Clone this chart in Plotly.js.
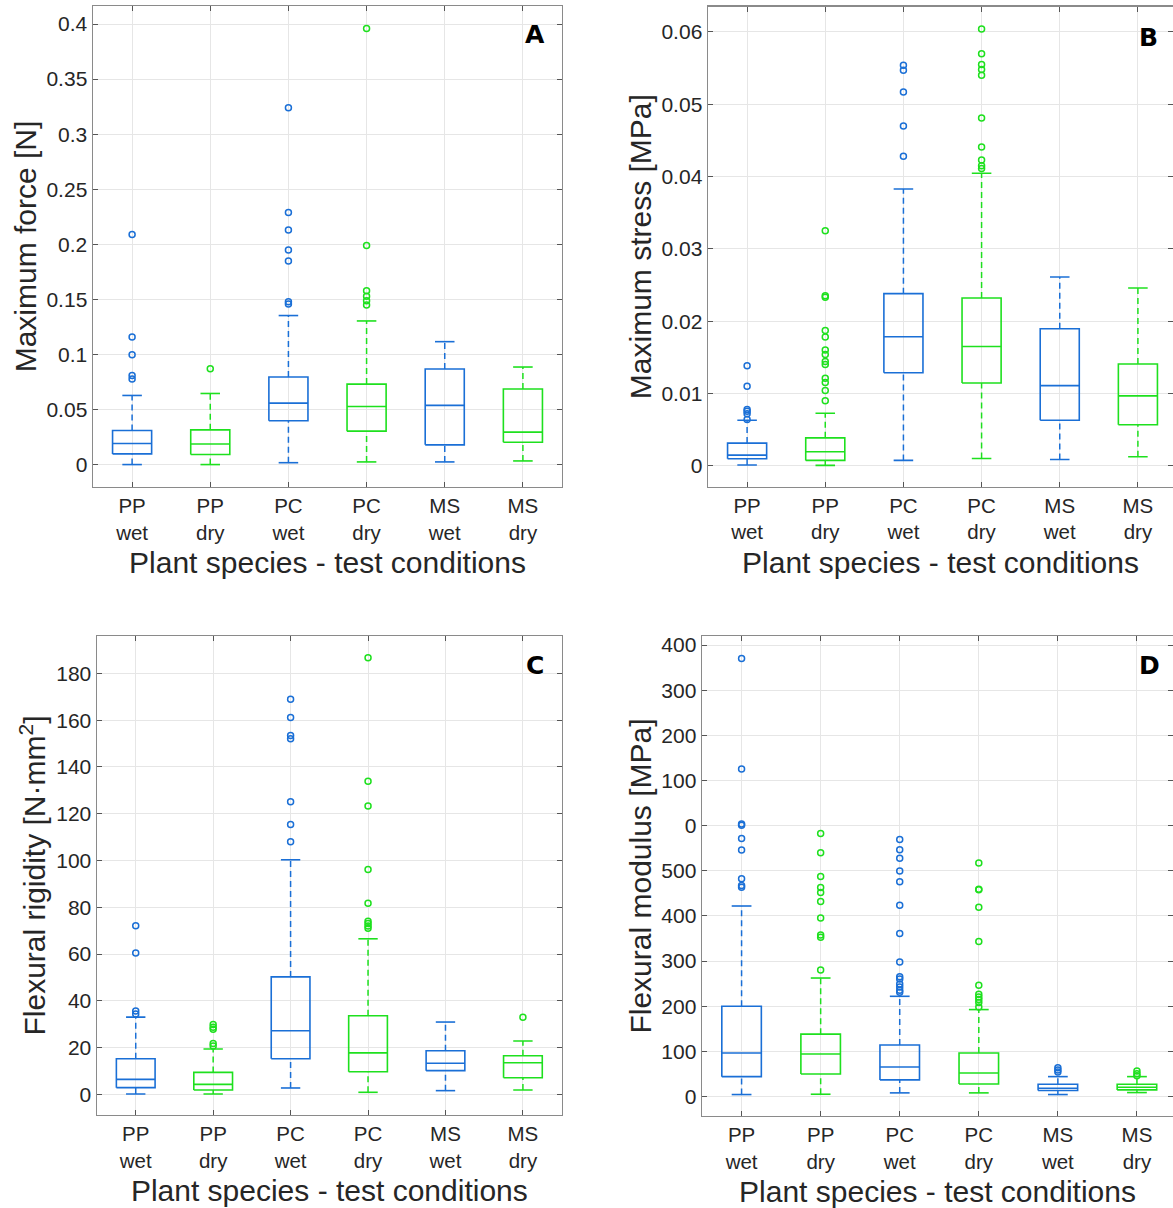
<!DOCTYPE html>
<html>
<head>
<meta charset="utf-8">
<script src="https://cdn.plot.ly/plotly-3.0.1.min.js"></script>
<style>html,body{margin:0;padding:0;background:#fff;}#chart{width:1173px;height:1208px;}</style>
</head>
<body>
<div id="chart"></div>
<script>
// ---------- categories ----------
const categories = ["PP<br>wet", "PP<br>dry", "PC<br>wet", "PC<br>dry", "MS<br>wet", "MS<br>dry"];
const condition = ["wet", "dry", "wet", "dry", "wet", "dry"];

// ---------- Panel A: Maximum force [N] ----------
const A_lo  = [0.0003, 0.0003, 0.002, 0.0027, 0.0027, 0.0036];
const A_q1  = [0.010, 0.0094, 0.040, 0.0306, 0.0182, 0.0206];
const A_med = [0.0194, 0.019, 0.056, 0.053, 0.054, 0.0297];
const A_q3  = [0.0312, 0.0318, 0.0797, 0.0733, 0.087, 0.0688];
const A_hi  = [0.063, 0.0648, 0.1355, 0.1306, 0.1118, 0.0888];
const A_out = [
  [0.209, 0.116, 0.100, 0.081, 0.078],
  [0.0873],
  [0.324, 0.229, 0.213, 0.195, 0.185, 0.148, 0.146],
  [0.396, 0.199, 0.158, 0.153, 0.149, 0.145],
  [],
  []
];

// ---------- Panel B: Maximum stress [MPa] ----------
const B_lo  = [0.0001, 0.00005, 0.00074, 0.0010, 0.00087, 0.00124];
const B_q1  = [0.00097, 0.00074, 0.01287, 0.01145, 0.0063, 0.00566];
const B_med = [0.00147, 0.00193, 0.01784, 0.0165, 0.01108, 0.00966];
const B_q3  = [0.00313, 0.00386, 0.0238, 0.0232, 0.01894, 0.01407];
const B_hi  = [0.0063, 0.00726, 0.03828, 0.04045, 0.0261, 0.02458];
const B_out = [
  [0.01384, 0.0110, 0.00777, 0.00754, 0.0072, 0.0064],
  [0.0325, 0.0235, 0.0233, 0.0187, 0.0178, 0.0160, 0.0154, 0.0144, 0.0140, 0.0121, 0.0115, 0.0104, 0.0090],
  [0.0554, 0.0547, 0.0517, 0.0470, 0.0428],
  [0.0604, 0.0570, 0.0555, 0.0548, 0.0540, 0.0481, 0.0441, 0.0423, 0.0415, 0.0411],
  [],
  []
];

// ---------- Panel C: Flexural rigidity [N·mm²] ----------
const C_lo  = [0.14, 0.14, 2.7, 0.85, 1.56, 1.84];
const C_q1  = [2.84, 1.84, 15.2, 9.65, 10.1, 7.1];
const C_med = [6.4, 4.26, 27.2, 17.7, 13.3, 13.5];
const C_q3  = [15.2, 9.36, 50.2, 33.6, 18.6, 16.5];
const C_hi  = [33.0, 19.4, 100.3, 66.5, 30.9, 22.8];
const C_out = [
  [72.1, 60.4, 35.6, 34.3],
  [29.8, 28.7, 27.8, 21.7, 20.7],
  [169.0, 161.1, 153.4, 152.1, 125.1, 115.4, 108.0],
  [186.7, 133.9, 123.3, 96.1, 81.7, 74.0, 73.0, 72.0, 71.0],
  [],
  [32.9]
];

// ---------- Panel D: Flexural modulus [MPa] ----------
const D_lo  = [4.4, 5.1, 8.1, 8.1, 4.4, 8.8];
const D_q1  = [44, 50, 36.8, 27.9, 13.2, 14.7];
const D_med = [96.3, 94.1, 65.4, 52.2, 18.4, 20.6];
const D_q3  = [200, 138.2, 114, 96.3, 27.2, 27.2];
const D_hi  = [422, 262.5, 222, 192.6, 44.1, 44.1];
const D_out = [
  [970.4, 725.6, 603.5, 600.6, 571.7, 545.9, 482.2, 467.5, 463.8],
  [582.8, 540, 487.4, 463, 452, 432, 395.6, 358, 353, 280],
  [569.5, 546.6, 528, 499.3, 475.6, 423.8, 361, 297.8, 265.4, 260.3, 249, 242.6, 235.3, 231],
  [517, 459.3, 457.8, 419.4, 343.4, 246.3, 226.5, 220.6, 214.7, 208, 198.5],
  [64, 58.8, 54.4],
  [56.6, 50.7, 46.3]
];
const D_tickvals = [0, 100, 200, 300, 400, 500, 600, 700, 800, 900, 1000];
const D_ticktext = ["0", "100", "200", "300", "400", "500", "0", "100", "200", "300", "400"];

// ---------- styling ----------
const BLUE = "#1a6fd6";
const GREEN = "#1ee01e";
const colorOf = c => c === "wet" ? BLUE : GREEN;
const FONT = "Liberation Sans, Arial, Helvetica, sans-serif";
const TXT = "#262626";
const BOXW = 0.25, CAPW = 0.125;

function boxTraces(lo, q1, med, q3, hi, out, xa, ya) {
  const traces = [];
  for (let i = 0; i < lo.length; i++) {
    const x = i + 1;
    const col = colorOf(condition[i]);
    traces.push({type: "scatter", mode: "lines", xaxis: xa, yaxis: ya, hoverinfo: "skip", showlegend: false,
      x: [x, x, null, x, x], y: [q3[i], hi[i], null, lo[i], q1[i]],
      line: {color: col, width: 1.5, dash: "6px,4px"}});
    traces.push({type: "scatter", mode: "lines", xaxis: xa, yaxis: ya, hoverinfo: "skip", showlegend: false,
      x: [x - CAPW, x + CAPW, null, x - CAPW, x + CAPW], y: [hi[i], hi[i], null, lo[i], lo[i]],
      line: {color: col, width: 1.6}});
    traces.push({type: "scatter", mode: "lines", xaxis: xa, yaxis: ya, hoverinfo: "skip", showlegend: false,
      x: [x - BOXW, x + BOXW, x + BOXW, x - BOXW, x - BOXW, null, x - BOXW, x + BOXW],
      y: [q1[i], q1[i], q3[i], q3[i], q1[i], null, med[i], med[i]],
      line: {color: col, width: 1.6}});
    if (out[i].length) {
      traces.push({type: "scatter", mode: "markers", xaxis: xa, yaxis: ya, showlegend: false,
        x: out[i].map(() => x), y: out[i],
        marker: {symbol: "circle-open", size: 6, color: col, line: {width: 1.5, color: col}}});
    }
  }
  return traces;
}

const data = [].concat(
  boxTraces(A_lo, A_q1, A_med, A_q3, A_hi, A_out, "x", "y"),
  boxTraces(B_lo, B_q1, B_med, B_q3, B_hi, B_out, "x2", "y2"),
  boxTraces(C_lo, C_q1, C_med, C_q3, C_hi, C_out, "x3", "y3"),
  boxTraces(D_lo, D_q1, D_med, D_q3, D_hi, D_out, "x4", "y4")
);

const XTITLE = "Plant species - test conditions";
function xax(domain, range, anchor) {
  return {domain: domain, range: range, anchor: anchor,
    tickmode: "array", tickvals: [1, 2, 3, 4, 5, 6], ticktext: categories,
    tickfont: {family: FONT, size: 20.5, color: TXT},
    ticks: "inside", ticklen: 5, tickcolor: "#555", tickwidth: 1,
    showline: true, linecolor: "#8a8a8a", linewidth: 1.5, mirror: "ticks",
    showgrid: true, gridcolor: "#e6e6e6", gridwidth: 1, zeroline: false,
    title: {text: XTITLE, font: {family: FONT, size: 30, color: TXT}, standoff: 9}};
}
function yax(domain, range, anchor, title, extra) {
  return Object.assign({domain: domain, range: range, anchor: anchor,
    tickfont: {family: FONT, size: 21, color: TXT},
    ticks: "inside", ticklen: 5, tickcolor: "#555", tickwidth: 1,
    showline: true, linecolor: "#8a8a8a", linewidth: 1.5, mirror: "ticks",
    showgrid: true, gridcolor: "#e6e6e6", gridwidth: 1, zeroline: false,
    title: {text: title, font: {family: FONT, size: 30, color: TXT}, standoff: 1}}, extra || {});
}

const layout = {
  width: 1173, height: 1208,
  margin: {l: 0, r: 0, t: 0, b: 0},
  paper_bgcolor: "#fff", plot_bgcolor: "#fff",
  showlegend: false,
  xaxis:  xax([0.0793, 0.4791], [0.5, 6.5], "y"),
  yaxis:  yax([0.5969, 0.9950], [-0.020, 0.4163], "x", "Maximum force [N]",
            {tickvals: [0, 0.05, 0.1, 0.15, 0.2, 0.25, 0.3, 0.35, 0.4], ticktext: ["0", "0.05", "0.1", "0.15", "0.2", "0.25", "0.3", "0.35", "0.4"]}),
  xaxis2: xax([0.6036, 1.0], [0.5, 6.449], "y2"),
  yaxis2: yax([0.5971, 0.9945], [-0.0029, 0.0635], "x2", "Maximum stress [MPa]",
            {tickvals: [0, 0.01, 0.02, 0.03, 0.04, 0.05, 0.06], ticktext: ["0", "0.01", "0.02", "0.03", "0.04", "0.05", "0.06"]}),
  xaxis3: xax([0.0827, 0.4788], [0.5, 6.5], "y3"),
  yaxis3: yax([0.0770, 0.4735], [-8.85, 196], "x3", "Flexural rigidity [N·mm<sup>2</sup>]",
            {tickvals: [0, 20, 40, 60, 80, 100, 120, 140, 160, 180]}),
  xaxis4: xax([0.5985, 1.0], [0.5, 6.456], "y4"),
  yaxis4: yax([0.0762, 0.4735], [-43, 1020], "x4", "Flexural modulus [MPa]",
            {tickmode: "array", tickvals: D_tickvals, ticktext: D_ticktext}),
  annotations: [
    {text: "<b>A</b>", x: 535, y: 35},
    {text: "<b>B</b>", x: 1148, y: 37},
    {text: "<b>C</b>", x: 535, y: 665},
    {text: "<b>D</b>", x: 1149, y: 665}
  ].map(a => ({text: a.text, xref: "paper", yref: "paper", x: a.x / 1173, y: 1 - a.y / 1208,
      xanchor: "center", yanchor: "middle", showarrow: false,
      font: {family: "DejaVu Sans, Liberation Sans, sans-serif", size: 25, color: "#000"}}))
};

Plotly.newPlot("chart", data, layout, {staticPlot: true, displayModeBar: false});
</script>
</body>
</html>
